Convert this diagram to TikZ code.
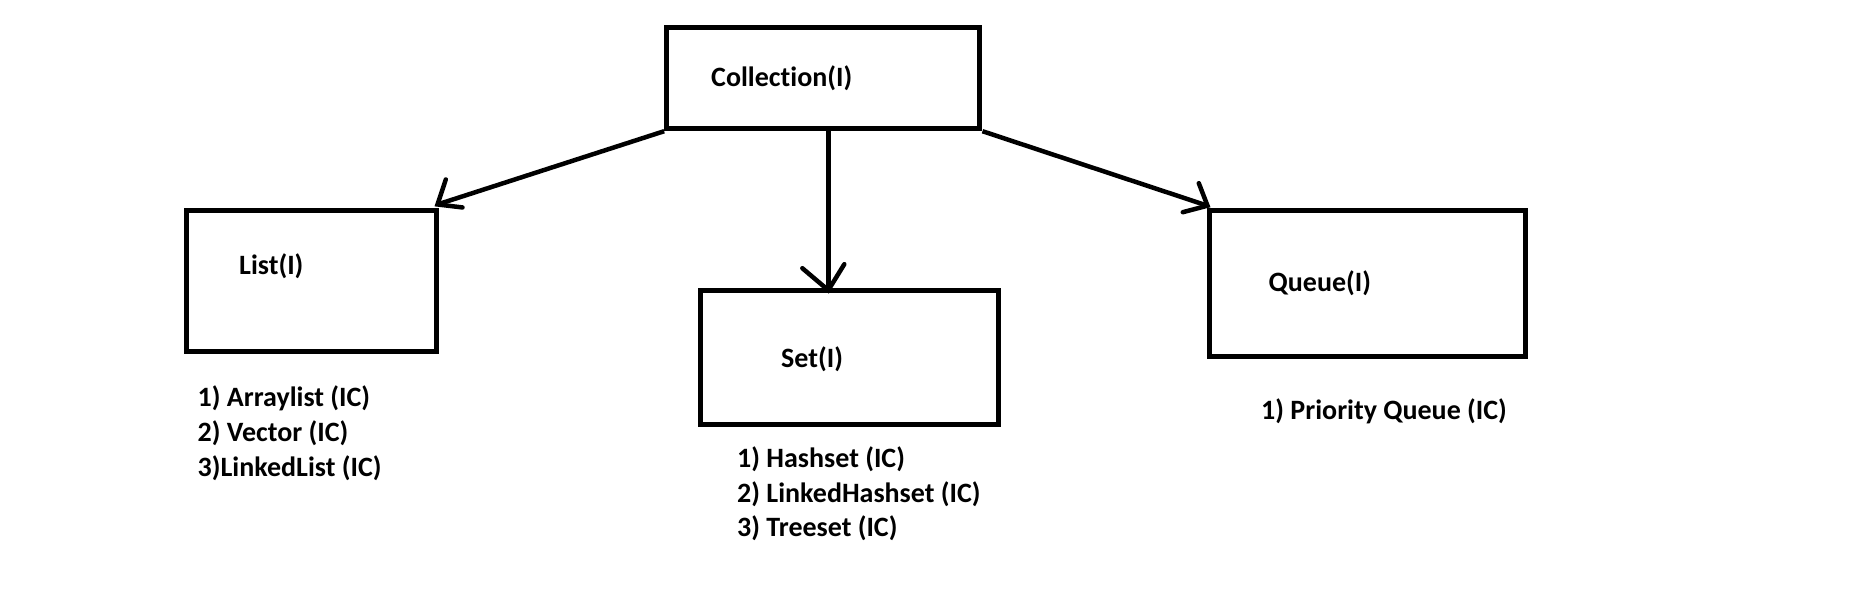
\documentclass[tikz,border=0pt]{standalone}
\usepackage{fontspec}
\setmainfont{Carlito}[Ligatures=NoCommon]
\begin{document}
\begin{tikzpicture}[x=1pt,y=-1pt,
  box/.style={draw=black,line width=5pt,rectangle,inner sep=0pt},
  lbl/.style={inner sep=0pt,anchor=base west,font=\fontsize{28}{33}\selectfont\bfseries,text=black},
  conn/.style={draw=black,line width=4.5pt},
  arm/.style={draw=black,line width=4.5pt,line cap=round}]
\useasboundingbox[fill=white] (0,0) rectangle (1863,608);
% boxes
\node[box,minimum width=313.3pt,minimum height=101.4pt] (coll) at (823.3,78) {};
\node[box,minimum width=250pt,minimum height=140.7pt] (list) at (311.7,281.3) {};
\node[box,minimum width=297.6pt,minimum height=133.6pt] (set) at (849.5,357.5) {};
\node[box,minimum width=316.4pt,minimum height=146pt] (queue) at (1367.5,283.7) {};
% titles
\node[lbl] (tcoll) at (711,86) {Collection(I)};
\node[lbl] (tlist) at (239,274) {List(I)};
\node[lbl] (tset) at (781,367.3) {Set(I)};
\node[lbl] (tqueue) at (1268.5,291) {Queue(I)};
% lists
\node[lbl] (l1) at (197.5,406.7) {1) Arraylist (IC)};
\node[lbl] (l2) at (197.5,441.4) {2) Vector (IC)};
\node[lbl] (l3) at (197.5,476) {3)LinkedList (IC)};
\node[lbl] (s1) at (737,467.7) {1) Hashset (IC)};
\node[lbl] (s2) at (737,502.2) {2) LinkedHashset (IC)};
\node[lbl] (s3) at (737,536.7) {3) Treeset (IC)};
\node[lbl] (q1) at (1261,419.3) {1) Priority Queue (IC)};
% connectors
\draw[conn] (coll.south west) -- ([shift={(-1.7,-4)}]list.north east);
\draw[conn] (828.3,0 |- coll.south) -- (828.3,0 |- set.north);
\draw[conn] (coll.south east) -- ([shift={(0.7,-2.5)}]queue.north west);
% arrowheads
\draw[arm] ([shift={(6.6,-29)}]list.north east) -- ([shift={(-1.7,-4)}]list.north east) -- ([shift={(23.3,-1)}]list.north east);
\draw[arm] ([shift={(-26,-20)}]828.3,0 |- set.north) -- ([shift={(0,2)}]828.3,0 |- set.north) -- ([shift={(16,-24)}]828.3,0 |- set.north);
\draw[arm] ([shift={(-8,-25)}]queue.north west) -- ([shift={(0.7,-2.5)}]queue.north west) -- ([shift={(-24,4)}]queue.north west);
\end{tikzpicture}
\end{document}
